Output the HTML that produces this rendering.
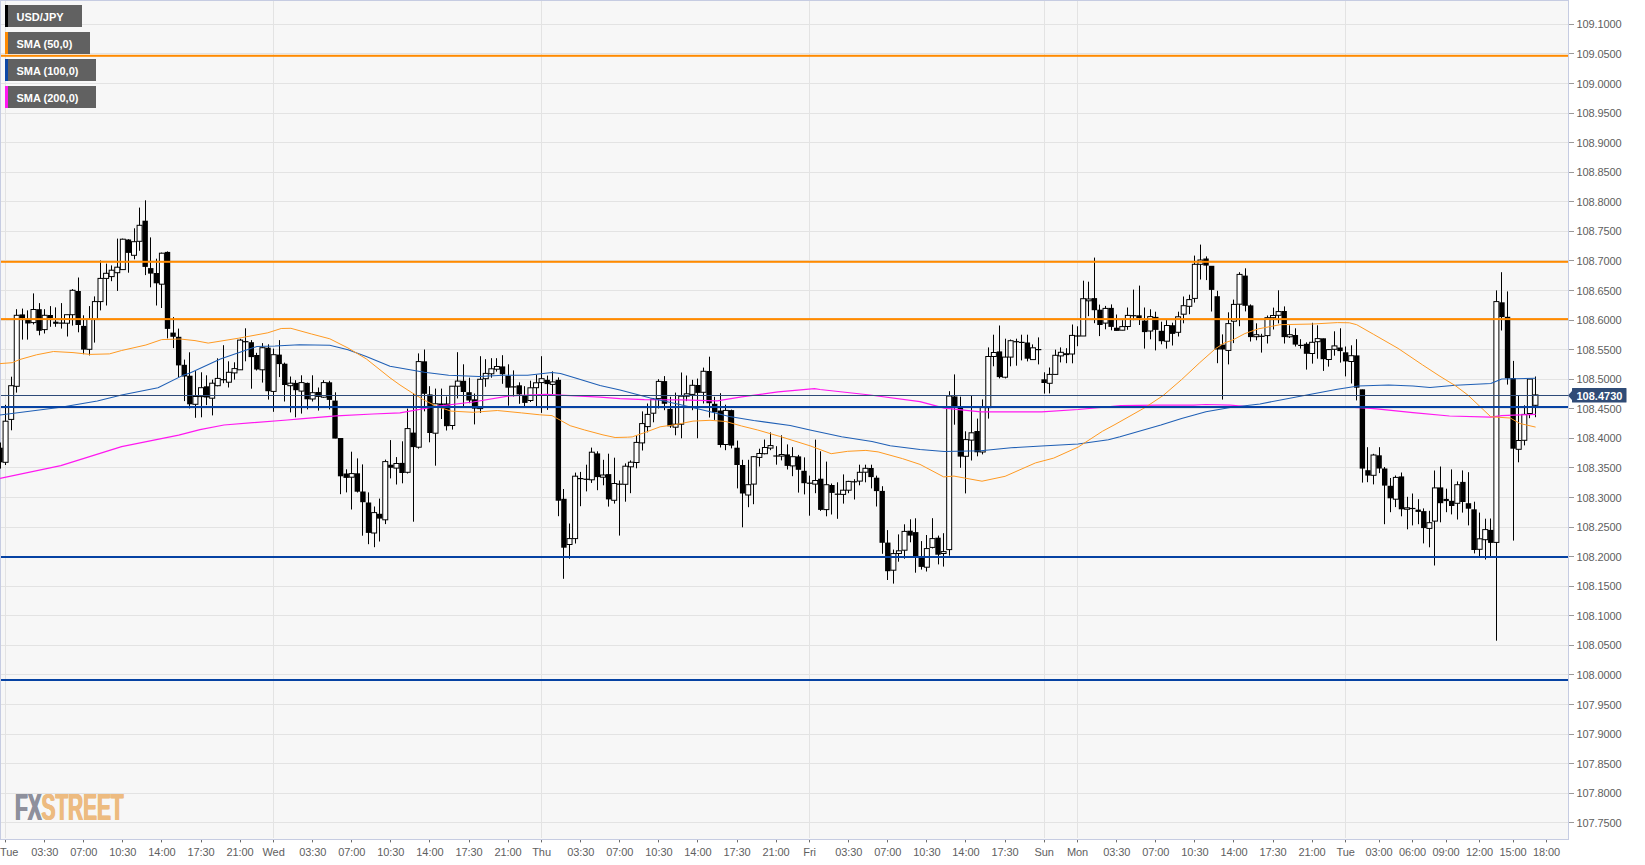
<!DOCTYPE html><html><head><meta charset="utf-8"><title>USD/JPY</title>
<style>html,body{margin:0;padding:0;background:#fff;width:1645px;height:865px;overflow:hidden;position:relative}svg{display:block;position:absolute;left:0;top:0}.logo{position:absolute;left:14.6px;top:786.9px;font:bold 37px/42px "Liberation Sans",Arial,sans-serif;transform-origin:0 0;transform:scaleX(0.566);white-space:nowrap;letter-spacing:-0.2px}.fx{color:#8e909c;text-shadow:0.8px 0 0 #8e909c,-0.8px 0 0 #8e909c}.st{color:#edbb80;text-shadow:0.8px 0 0 #edbb80,-0.8px 0 0 #edbb80}text{font-family:"Liberation Sans",Arial,sans-serif}</style></head><body>
<svg width="1645" height="865" viewBox="0 0 1645 865">
<rect x="0" y="0" width="1645" height="865" fill="#ffffff"/>
<rect x="0.5" y="0.5" width="1568" height="839" fill="#f7f7f7" stroke="#c6cce2" stroke-width="1"/>
<path d="M1 24.5H1568 M1 53.5H1568 M1 83.5H1568 M1 113.5H1568 M1 142.5H1568 M1 172.5H1568 M1 201.5H1568 M1 231.5H1568 M1 260.5H1568 M1 290.5H1568 M1 320.5H1568 M1 349.5H1568 M1 379.5H1568 M1 408.5H1568 M1 438.5H1568 M1 467.5H1568 M1 497.5H1568 M1 527.5H1568 M1 556.5H1568 M1 586.5H1568 M1 615.5H1568 M1 645.5H1568 M1 674.5H1568 M1 704.5H1568 M1 734.5H1568 M1 763.5H1568 M1 793.5H1568 M1 822.5H1568" stroke="#e3e3e3" stroke-width="1" fill="none"/>
<path d="M5.5 1V838 M273.5 1V838 M541.5 1V838 M809.5 1V838 M1044.5 1V838 M1077.5 1V838 M1345.5 1V838" stroke="#e3e3e3" stroke-width="1" fill="none"/>
<path d="M1569 24.5H1574 M1569 53.5H1574 M1569 83.5H1574 M1569 113.5H1574 M1569 142.5H1574 M1569 172.5H1574 M1569 201.5H1574 M1569 231.5H1574 M1569 260.5H1574 M1569 290.5H1574 M1569 320.5H1574 M1569 349.5H1574 M1569 379.5H1574 M1569 408.5H1574 M1569 438.5H1574 M1569 467.5H1574 M1569 497.5H1574 M1569 527.5H1574 M1569 556.5H1574 M1569 586.5H1574 M1569 615.5H1574 M1569 645.5H1574 M1569 674.5H1574 M1569 704.5H1574 M1569 734.5H1574 M1569 763.5H1574 M1569 793.5H1574 M1569 822.5H1574" stroke="#999999" stroke-width="1" fill="none"/>
<g font-size="11" fill="#606060" letter-spacing="-0.1">
<text x="1576.4" y="28">109.1000</text>
<text x="1576.4" y="58">109.0500</text>
<text x="1576.4" y="88">109.0000</text>
<text x="1576.4" y="117">108.9500</text>
<text x="1576.4" y="147">108.9000</text>
<text x="1576.4" y="176">108.8500</text>
<text x="1576.4" y="206">108.8000</text>
<text x="1576.4" y="235">108.7500</text>
<text x="1576.4" y="265">108.7000</text>
<text x="1576.4" y="295">108.6500</text>
<text x="1576.4" y="324">108.6000</text>
<text x="1576.4" y="354">108.5500</text>
<text x="1576.4" y="383">108.5000</text>
<text x="1576.4" y="413">108.4500</text>
<text x="1576.4" y="442">108.4000</text>
<text x="1576.4" y="472">108.3500</text>
<text x="1576.4" y="502">108.3000</text>
<text x="1576.4" y="531">108.2500</text>
<text x="1576.4" y="561">108.2000</text>
<text x="1576.4" y="590">108.1500</text>
<text x="1576.4" y="620">108.1000</text>
<text x="1576.4" y="649">108.0500</text>
<text x="1576.4" y="679">108.0000</text>
<text x="1576.4" y="709">107.9500</text>
<text x="1576.4" y="738">107.9000</text>
<text x="1576.4" y="768">107.8500</text>
<text x="1576.4" y="797">107.8000</text>
<text x="1576.4" y="827">107.7500</text>
</g>
<path d="M5.5 840V842.4 M44.5 840V842.4 M83.5 840V842.4 M122.5 840V842.4 M161.5 840V842.4 M201.5 840V842.4 M240.5 840V842.4 M273.5 840V842.4 M312.5 840V842.4 M351.5 840V842.4 M390.5 840V842.4 M429.5 840V842.4 M469.5 840V842.4 M508.5 840V842.4 M541.5 840V842.4 M580.5 840V842.4 M619.5 840V842.4 M658.5 840V842.4 M697.5 840V842.4 M737.5 840V842.4 M776.5 840V842.4 M809.5 840V842.4 M848.5 840V842.4 M887.5 840V842.4 M926.5 840V842.4 M965.5 840V842.4 M1005.5 840V842.4 M1044.5 840V842.4 M1077.5 840V842.4 M1116.5 840V842.4 M1155.5 840V842.4 M1194.5 840V842.4 M1233.5 840V842.4 M1273.5 840V842.4 M1312.5 840V842.4 M1345.5 840V842.4 M1379.5 840V842.4 M1412.5 840V842.4 M1446.5 840V842.4 M1479.5 840V842.4 M1513.5 840V842.4 M1546.5 840V842.4" stroke="#6a6a6a" stroke-width="1" fill="none"/>
<g font-size="11" fill="#606060" text-anchor="middle" letter-spacing="-0.08">
<text x="0" y="856" text-anchor="start">Tue</text>
<text x="44.7" y="856">03:30</text>
<text x="83.8" y="856">07:00</text>
<text x="122.8" y="856">10:30</text>
<text x="161.9" y="856">14:00</text>
<text x="201.0" y="856">17:30</text>
<text x="240.1" y="856">21:00</text>
<text x="273.6" y="856">Wed</text>
<text x="312.7" y="856">03:30</text>
<text x="351.8" y="856">07:00</text>
<text x="390.8" y="856">10:30</text>
<text x="429.9" y="856">14:00</text>
<text x="469.0" y="856">17:30</text>
<text x="508.1" y="856">21:00</text>
<text x="541.6" y="856">Thu</text>
<text x="580.7" y="856">03:30</text>
<text x="619.8" y="856">07:00</text>
<text x="658.9" y="856">10:30</text>
<text x="697.9" y="856">14:00</text>
<text x="737.0" y="856">17:30</text>
<text x="776.1" y="856">21:00</text>
<text x="809.6" y="856">Fri</text>
<text x="848.7" y="856">03:30</text>
<text x="887.8" y="856">07:00</text>
<text x="926.9" y="856">10:30</text>
<text x="965.9" y="856">14:00</text>
<text x="1005.0" y="856">17:30</text>
<text x="1044.1" y="856">Sun</text>
<text x="1077.6" y="856">Mon</text>
<text x="1116.7" y="856">03:30</text>
<text x="1155.8" y="856">07:00</text>
<text x="1194.9" y="856">10:30</text>
<text x="1234.0" y="856">14:00</text>
<text x="1273.0" y="856">17:30</text>
<text x="1312.1" y="856">21:00</text>
<text x="1345.6" y="856">Tue</text>
<text x="1379.1" y="856">03:00</text>
<text x="1412.6" y="856">06:00</text>
<text x="1446.1" y="856">09:00</text>
<text x="1479.6" y="856">12:00</text>
<text x="1513.1" y="856">15:00</text>
<text x="1546.6" y="856">18:00</text>
</g>
<path d="M0.5 442.5V468.6" stroke="#000" stroke-width="1"/>
<rect x="-2.70" y="447.7" width="5.4" height="14.6" fill="#000"/>
<path d="M5.5 404.8V465.0" stroke="#000" stroke-width="1"/>
<rect x="3.08" y="421.2" width="5" height="41.1" fill="#fff" stroke="#000" stroke-width="1"/>
<path d="M11.5 376.7V430.3" stroke="#000" stroke-width="1"/>
<rect x="8.67" y="385.7" width="5" height="33.7" fill="#fff" stroke="#000" stroke-width="1"/>
<path d="M16.5 309.2V392.6" stroke="#000" stroke-width="1"/>
<rect x="14.25" y="315.3" width="5" height="71.0" fill="#fff" stroke="#000" stroke-width="1"/>
<path d="M22.5 308.6V339.6" stroke="#000" stroke-width="1"/>
<rect x="19.63" y="314.4" width="5.4" height="3.6" fill="#000"/>
<path d="M27.5 310.4V339.6" stroke="#000" stroke-width="1"/>
<rect x="25.22" y="319.8" width="5.4" height="3.7" fill="#000"/>
<path d="M33.5 293.4V324.4" stroke="#000" stroke-width="1"/>
<rect x="31.00" y="309.5" width="5" height="13.1" fill="#fff" stroke="#000" stroke-width="1"/>
<path d="M39.5 303.1V335.3" stroke="#000" stroke-width="1"/>
<rect x="36.38" y="309.2" width="5.4" height="21.6" fill="#000"/>
<path d="M44.5 309.2V333.5" stroke="#000" stroke-width="1"/>
<rect x="42.17" y="315.3" width="5" height="14.3" fill="#fff" stroke="#000" stroke-width="1"/>
<path d="M50.5 306.1V326.8" stroke="#000" stroke-width="1"/>
<rect x="47.55" y="315.0" width="5.4" height="3.0" fill="#000"/>
<path d="M55.5 307.4V326.8" stroke="#000" stroke-width="1"/>
<rect x="53.13" y="321.7" width="5.4" height="2.1" fill="#000"/>
<path d="M61.5 303.1V328.6" stroke="#000" stroke-width="1"/>
<rect x="58.62" y="322.5" width="5.6" height="1.2" fill="#000"/>
<path d="M67.5 314.7V336.5" stroke="#000" stroke-width="1"/>
<rect x="64.50" y="314.7" width="5" height="8.5" fill="#fff" stroke="#000" stroke-width="1"/>
<path d="M72.5 289.1V325.6" stroke="#000" stroke-width="1"/>
<rect x="70.09" y="290.3" width="5" height="24.4" fill="#fff" stroke="#000" stroke-width="1"/>
<path d="M78.5 277.5V332.3" stroke="#000" stroke-width="1"/>
<rect x="75.47" y="291.0" width="5.4" height="34.0" fill="#000"/>
<path d="M83.5 315.3V354.2" stroke="#000" stroke-width="1"/>
<rect x="81.05" y="325.9" width="5.4" height="23.7" fill="#000"/>
<path d="M89.5 306.1V355.4" stroke="#000" stroke-width="1"/>
<rect x="86.84" y="319.5" width="5" height="29.8" fill="#fff" stroke="#000" stroke-width="1"/>
<path d="M94.5 296.4V342.6" stroke="#000" stroke-width="1"/>
<rect x="92.42" y="301.6" width="5" height="17.9" fill="#fff" stroke="#000" stroke-width="1"/>
<path d="M100.5 260.5V310.4" stroke="#000" stroke-width="1"/>
<rect x="98.00" y="278.4" width="5" height="23.2" fill="#fff" stroke="#000" stroke-width="1"/>
<path d="M106.5 263.6V305.5" stroke="#000" stroke-width="1"/>
<rect x="103.59" y="273.3" width="5" height="5.1" fill="#fff" stroke="#000" stroke-width="1"/>
<path d="M111.5 265.4V281.2" stroke="#000" stroke-width="1"/>
<rect x="109.17" y="270.2" width="5" height="6.4" fill="#fff" stroke="#000" stroke-width="1"/>
<path d="M117.5 238.6V290.9" stroke="#000" stroke-width="1"/>
<rect x="114.75" y="267.2" width="5" height="5.5" fill="#fff" stroke="#000" stroke-width="1"/>
<path d="M122.5 238.6V269.6" stroke="#000" stroke-width="1"/>
<rect x="120.34" y="239.2" width="5" height="30.4" fill="#fff" stroke="#000" stroke-width="1"/>
<path d="M128.5 239.2V272.7" stroke="#000" stroke-width="1"/>
<rect x="125.72" y="239.5" width="5.4" height="13.4" fill="#000"/>
<path d="M134.5 228.3V259.3" stroke="#000" stroke-width="1"/>
<rect x="131.50" y="241.7" width="5" height="13.6" fill="#fff" stroke="#000" stroke-width="1"/>
<path d="M139.5 207.6V250.8" stroke="#000" stroke-width="1"/>
<rect x="137.09" y="225.3" width="5" height="16.0" fill="#fff" stroke="#000" stroke-width="1"/>
<path d="M145.5 200.3V275.1" stroke="#000" stroke-width="1"/>
<rect x="142.47" y="220.7" width="5.4" height="46.2" fill="#000"/>
<path d="M150.5 237.4V287.3" stroke="#000" stroke-width="1"/>
<rect x="148.05" y="268.1" width="5.4" height="5.5" fill="#000"/>
<path d="M156.5 258.7V305.5" stroke="#000" stroke-width="1"/>
<rect x="153.64" y="273.0" width="5.4" height="10.3" fill="#000"/>
<path d="M161.5 252.6V308.0" stroke="#000" stroke-width="1"/>
<rect x="159.42" y="253.2" width="5" height="31.0" fill="#fff" stroke="#000" stroke-width="1"/>
<path d="M167.5 251.4V338.4" stroke="#000" stroke-width="1"/>
<rect x="164.81" y="251.9" width="5.4" height="77.0" fill="#000"/>
<path d="M173.5 317.1V348.1" stroke="#000" stroke-width="1"/>
<rect x="170.39" y="332.6" width="5.4" height="4.2" fill="#000"/>
<path d="M178.5 328.6V377.3" stroke="#000" stroke-width="1"/>
<rect x="175.97" y="336.8" width="5.4" height="28.6" fill="#000"/>
<path d="M184.5 359.6V401.1" stroke="#000" stroke-width="1"/>
<rect x="181.56" y="364.8" width="5.4" height="11.7" fill="#000"/>
<path d="M189.5 352.3V408.4" stroke="#000" stroke-width="1"/>
<rect x="187.14" y="375.7" width="5.4" height="28.6" fill="#000"/>
<path d="M195.5 371.1V417.8" stroke="#000" stroke-width="1"/>
<rect x="192.92" y="396.5" width="5" height="7.8" fill="#fff" stroke="#000" stroke-width="1"/>
<path d="M201.5 372.3V417.3" stroke="#000" stroke-width="1"/>
<rect x="198.51" y="387.7" width="5" height="8.9" fill="#fff" stroke="#000" stroke-width="1"/>
<path d="M206.5 375.3V405.1" stroke="#000" stroke-width="1"/>
<rect x="203.89" y="386.3" width="5.4" height="11.2" fill="#000"/>
<path d="M212.5 379.6V415.4" stroke="#000" stroke-width="1"/>
<rect x="209.67" y="383.2" width="5" height="15.0" fill="#fff" stroke="#000" stroke-width="1"/>
<path d="M217.5 358.3V386.3" stroke="#000" stroke-width="1"/>
<rect x="215.26" y="378.4" width="5" height="7.3" fill="#fff" stroke="#000" stroke-width="1"/>
<path d="M223.5 345.2V383.2" stroke="#000" stroke-width="1"/>
<rect x="220.54" y="379.1" width="5.6" height="1.2" fill="#000"/>
<path d="M228.5 361.3V387.5" stroke="#000" stroke-width="1"/>
<rect x="226.42" y="372.3" width="5" height="9.9" fill="#fff" stroke="#000" stroke-width="1"/>
<path d="M234.5 362.3V379.6" stroke="#000" stroke-width="1"/>
<rect x="232.01" y="368.6" width="5" height="4.3" fill="#fff" stroke="#000" stroke-width="1"/>
<path d="M240.5 338.8V369.8" stroke="#000" stroke-width="1"/>
<rect x="237.59" y="340.1" width="5" height="29.7" fill="#fff" stroke="#000" stroke-width="1"/>
<path d="M245.5 328.3V361.3" stroke="#000" stroke-width="1"/>
<rect x="242.87" y="341.1" width="5.6" height="1.2" fill="#000"/>
<path d="M251.5 340.1V388.7" stroke="#000" stroke-width="1"/>
<rect x="248.56" y="342.2" width="5.4" height="14.9" fill="#000"/>
<path d="M256.5 352.8V370.5" stroke="#000" stroke-width="1"/>
<rect x="254.14" y="355.0" width="5.4" height="14.5" fill="#000"/>
<path d="M262.5 343.1V382.6" stroke="#000" stroke-width="1"/>
<rect x="259.92" y="347.7" width="5" height="22.1" fill="#fff" stroke="#000" stroke-width="1"/>
<path d="M268.5 344.3V399.6" stroke="#000" stroke-width="1"/>
<rect x="265.31" y="347.7" width="5.4" height="43.5" fill="#000"/>
<path d="M273.5 348.6V411.8" stroke="#000" stroke-width="1"/>
<rect x="271.09" y="354.7" width="5" height="36.7" fill="#fff" stroke="#000" stroke-width="1"/>
<path d="M279.5 340.1V377.1" stroke="#000" stroke-width="1"/>
<rect x="276.48" y="354.6" width="5.4" height="9.5" fill="#000"/>
<path d="M284.5 362.6V401.5" stroke="#000" stroke-width="1"/>
<rect x="282.06" y="363.7" width="5.4" height="21.3" fill="#000"/>
<path d="M290.5 376.5V412.4" stroke="#000" stroke-width="1"/>
<rect x="287.84" y="383.2" width="5" height="2.5" fill="#fff" stroke="#000" stroke-width="1"/>
<path d="M295.5 380.2V417.3" stroke="#000" stroke-width="1"/>
<rect x="293.23" y="382.9" width="5.4" height="7.3" fill="#000"/>
<path d="M301.5 375.3V413.6" stroke="#000" stroke-width="1"/>
<rect x="299.01" y="382.6" width="5" height="8.5" fill="#fff" stroke="#000" stroke-width="1"/>
<path d="M307.5 382.6V409.4" stroke="#000" stroke-width="1"/>
<rect x="304.39" y="382.9" width="5.4" height="16.4" fill="#000"/>
<path d="M312.5 375.3V401.5" stroke="#000" stroke-width="1"/>
<rect x="310.18" y="392.7" width="5" height="6.3" fill="#fff" stroke="#000" stroke-width="1"/>
<path d="M318.5 387.5V410.6" stroke="#000" stroke-width="1"/>
<rect x="315.56" y="392.0" width="5.4" height="4.9" fill="#000"/>
<path d="M323.5 380.2V397.8" stroke="#000" stroke-width="1"/>
<rect x="321.34" y="382.6" width="5" height="14.6" fill="#fff" stroke="#000" stroke-width="1"/>
<path d="M329.5 380.8V409.4" stroke="#000" stroke-width="1"/>
<rect x="326.73" y="382.3" width="5.4" height="17.6" fill="#000"/>
<path d="M335.5 392.3V438.3" stroke="#000" stroke-width="1"/>
<rect x="332.31" y="400.6" width="5.4" height="38.0" fill="#000"/>
<path d="M340.5 438.3V494.2" stroke="#000" stroke-width="1"/>
<rect x="337.89" y="438.0" width="5.4" height="38.3" fill="#000"/>
<path d="M346.5 469.3V492.4" stroke="#000" stroke-width="1"/>
<rect x="343.48" y="473.5" width="5.4" height="4.4" fill="#000"/>
<path d="M351.5 451.7V509.5" stroke="#000" stroke-width="1"/>
<rect x="349.26" y="473.6" width="5" height="3.6" fill="#fff" stroke="#000" stroke-width="1"/>
<path d="M357.5 458.4V492.5" stroke="#000" stroke-width="1"/>
<rect x="354.64" y="473.3" width="5.4" height="18.4" fill="#000"/>
<path d="M362.5 464.4V535.7" stroke="#000" stroke-width="1"/>
<rect x="360.23" y="491.5" width="5.4" height="10.7" fill="#000"/>
<path d="M368.5 492.4V544.2" stroke="#000" stroke-width="1"/>
<rect x="365.81" y="502.5" width="5.4" height="30.4" fill="#000"/>
<path d="M374.5 506.5V547.2" stroke="#000" stroke-width="1"/>
<rect x="371.59" y="512.6" width="5" height="20.4" fill="#fff" stroke="#000" stroke-width="1"/>
<path d="M379.5 498.6V541.5" stroke="#000" stroke-width="1"/>
<rect x="376.98" y="513.8" width="5.4" height="4.8" fill="#000"/>
<path d="M385.5 459.6V524.1" stroke="#000" stroke-width="1"/>
<rect x="382.76" y="461.6" width="5" height="58.2" fill="#fff" stroke="#000" stroke-width="1"/>
<path d="M390.5 440.1V478.4" stroke="#000" stroke-width="1"/>
<rect x="388.14" y="464.7" width="5.4" height="3.1" fill="#000"/>
<path d="M396.5 457.1V484.5" stroke="#000" stroke-width="1"/>
<rect x="393.93" y="463.5" width="5" height="4.6" fill="#fff" stroke="#000" stroke-width="1"/>
<path d="M402.5 441.3V483.3" stroke="#000" stroke-width="1"/>
<rect x="399.31" y="462.9" width="5.4" height="10.1" fill="#000"/>
<path d="M407.5 408.6V473.5" stroke="#000" stroke-width="1"/>
<rect x="405.10" y="428.6" width="5" height="43.7" fill="#fff" stroke="#000" stroke-width="1"/>
<path d="M413.5 393.5V521.7" stroke="#000" stroke-width="1"/>
<rect x="410.48" y="432.6" width="5.4" height="14.5" fill="#000"/>
<path d="M418.5 353.4V448.6" stroke="#000" stroke-width="1"/>
<rect x="416.26" y="361.6" width="5" height="85.6" fill="#fff" stroke="#000" stroke-width="1"/>
<path d="M424.5 349.5V411.3" stroke="#000" stroke-width="1"/>
<rect x="421.65" y="361.3" width="5.4" height="32.5" fill="#000"/>
<path d="M429.5 386.2V442.3" stroke="#000" stroke-width="1"/>
<rect x="427.23" y="394.4" width="5.4" height="38.6" fill="#000"/>
<path d="M435.5 388.6V465.7" stroke="#000" stroke-width="1"/>
<rect x="433.01" y="403.8" width="5" height="29.4" fill="#fff" stroke="#000" stroke-width="1"/>
<path d="M441.5 388.6V419.0" stroke="#000" stroke-width="1"/>
<rect x="438.40" y="403.5" width="5.4" height="2.4" fill="#000"/>
<path d="M446.5 396.5V430.5" stroke="#000" stroke-width="1"/>
<rect x="443.98" y="403.5" width="5.4" height="22.7" fill="#000"/>
<path d="M452.5 386.2V429.6" stroke="#000" stroke-width="1"/>
<rect x="449.76" y="386.2" width="5" height="39.3" fill="#fff" stroke="#000" stroke-width="1"/>
<path d="M457.5 352.2V398.4" stroke="#000" stroke-width="1"/>
<rect x="455.35" y="381.1" width="5" height="5.1" fill="#fff" stroke="#000" stroke-width="1"/>
<path d="M463.5 364.3V406.2" stroke="#000" stroke-width="1"/>
<rect x="460.73" y="380.8" width="5.4" height="11.2" fill="#000"/>
<path d="M469.5 377.7V403.2" stroke="#000" stroke-width="1"/>
<rect x="466.31" y="392.2" width="5.4" height="8.3" fill="#000"/>
<path d="M474.5 393.5V424.4" stroke="#000" stroke-width="1"/>
<rect x="471.90" y="399.3" width="5.4" height="9.3" fill="#000"/>
<path d="M480.5 356.2V412.9" stroke="#000" stroke-width="1"/>
<rect x="477.68" y="379.3" width="5" height="29.3" fill="#fff" stroke="#000" stroke-width="1"/>
<path d="M485.5 359.2V386.8" stroke="#000" stroke-width="1"/>
<rect x="483.26" y="373.4" width="5" height="5.3" fill="#fff" stroke="#000" stroke-width="1"/>
<path d="M491.5 358.2V377.7" stroke="#000" stroke-width="1"/>
<rect x="488.85" y="368.8" width="5" height="5.0" fill="#fff" stroke="#000" stroke-width="1"/>
<path d="M496.5 358.2V371.6" stroke="#000" stroke-width="1"/>
<rect x="494.43" y="366.5" width="5" height="2.7" fill="#fff" stroke="#000" stroke-width="1"/>
<path d="M502.5 355.2V383.8" stroke="#000" stroke-width="1"/>
<rect x="499.81" y="366.4" width="5.4" height="7.9" fill="#000"/>
<path d="M508.5 364.3V405.7" stroke="#000" stroke-width="1"/>
<rect x="505.40" y="375.9" width="5.4" height="11.8" fill="#000"/>
<path d="M513.5 370.4V396.5" stroke="#000" stroke-width="1"/>
<rect x="510.88" y="386.3" width="5.6" height="1.2" fill="#000"/>
<path d="M519.5 382.3V403.8" stroke="#000" stroke-width="1"/>
<rect x="516.57" y="385.3" width="5.4" height="9.1" fill="#000"/>
<path d="M524.5 386.2V406.3" stroke="#000" stroke-width="1"/>
<rect x="522.15" y="395.0" width="5.4" height="7.9" fill="#000"/>
<path d="M530.5 380.7V402.0" stroke="#000" stroke-width="1"/>
<rect x="527.93" y="387.8" width="5" height="12.7" fill="#fff" stroke="#000" stroke-width="1"/>
<path d="M536.5 374.7V406.3" stroke="#000" stroke-width="1"/>
<rect x="533.52" y="382.8" width="5" height="4.9" fill="#fff" stroke="#000" stroke-width="1"/>
<path d="M541.5 356.2V412.9" stroke="#000" stroke-width="1"/>
<rect x="539.10" y="378.7" width="5" height="3.9" fill="#fff" stroke="#000" stroke-width="1"/>
<path d="M547.5 375.6V409.9" stroke="#000" stroke-width="1"/>
<rect x="544.48" y="379.8" width="5.4" height="4.3" fill="#000"/>
<path d="M552.5 371.4V394.1" stroke="#000" stroke-width="1"/>
<rect x="550.27" y="381.9" width="5" height="2.5" fill="#fff" stroke="#000" stroke-width="1"/>
<path d="M558.5 377.4V516.2" stroke="#000" stroke-width="1"/>
<rect x="555.65" y="379.8" width="5.4" height="120.9" fill="#000"/>
<path d="M563.5 489.0V578.8" stroke="#000" stroke-width="1"/>
<rect x="561.23" y="498.8" width="5.4" height="48.9" fill="#000"/>
<path d="M569.5 523.5V558.7" stroke="#000" stroke-width="1"/>
<rect x="567.02" y="538.6" width="5" height="5.9" fill="#fff" stroke="#000" stroke-width="1"/>
<path d="M575.5 472.6V543.5" stroke="#000" stroke-width="1"/>
<rect x="572.60" y="476.2" width="5" height="62.4" fill="#fff" stroke="#000" stroke-width="1"/>
<path d="M580.5 471.9V506.2" stroke="#000" stroke-width="1"/>
<rect x="577.88" y="478.0" width="5.6" height="1.2" fill="#000"/>
<path d="M586.5 464.7V491.4" stroke="#000" stroke-width="1"/>
<rect x="583.47" y="478.7" width="5.6" height="1.2" fill="#000"/>
<path d="M591.5 447.6V482.9" stroke="#000" stroke-width="1"/>
<rect x="589.35" y="452.2" width="5" height="27.6" fill="#fff" stroke="#000" stroke-width="1"/>
<path d="M597.5 451.3V490.2" stroke="#000" stroke-width="1"/>
<rect x="594.73" y="453.4" width="5.4" height="23.7" fill="#000"/>
<path d="M603.5 459.8V485.3" stroke="#000" stroke-width="1"/>
<rect x="600.52" y="475.0" width="5" height="2.2" fill="#fff" stroke="#000" stroke-width="1"/>
<path d="M608.5 453.7V506.6" stroke="#000" stroke-width="1"/>
<rect x="605.90" y="474.1" width="5.4" height="25.3" fill="#000"/>
<path d="M614.5 457.7V503.6" stroke="#000" stroke-width="1"/>
<rect x="611.68" y="483.5" width="5" height="16.8" fill="#fff" stroke="#000" stroke-width="1"/>
<path d="M619.5 480.5V535.6" stroke="#000" stroke-width="1"/>
<rect x="616.97" y="483.6" width="5.6" height="1.2" fill="#000"/>
<path d="M625.5 463.4V501.7" stroke="#000" stroke-width="1"/>
<rect x="622.85" y="466.2" width="5" height="18.1" fill="#fff" stroke="#000" stroke-width="1"/>
<path d="M630.5 460.4V493.2" stroke="#000" stroke-width="1"/>
<rect x="628.44" y="462.2" width="5" height="4.6" fill="#fff" stroke="#000" stroke-width="1"/>
<path d="M636.5 435.3V468.3" stroke="#000" stroke-width="1"/>
<rect x="634.02" y="442.4" width="5" height="20.1" fill="#fff" stroke="#000" stroke-width="1"/>
<path d="M642.5 411.4V450.5" stroke="#000" stroke-width="1"/>
<rect x="639.60" y="423.6" width="5" height="19.3" fill="#fff" stroke="#000" stroke-width="1"/>
<path d="M647.5 403.5V432.3" stroke="#000" stroke-width="1"/>
<rect x="645.19" y="414.4" width="5" height="12.2" fill="#fff" stroke="#000" stroke-width="1"/>
<path d="M653.5 398.0V422.3" stroke="#000" stroke-width="1"/>
<rect x="650.77" y="399.2" width="5" height="14.0" fill="#fff" stroke="#000" stroke-width="1"/>
<path d="M658.5 379.2V408.4" stroke="#000" stroke-width="1"/>
<rect x="656.35" y="381.4" width="5" height="17.2" fill="#fff" stroke="#000" stroke-width="1"/>
<path d="M664.5 376.1V410.2" stroke="#000" stroke-width="1"/>
<rect x="661.74" y="381.1" width="5.4" height="22.7" fill="#000"/>
<path d="M670.5 396.8V427.8" stroke="#000" stroke-width="1"/>
<rect x="667.32" y="408.9" width="5.4" height="17.4" fill="#000"/>
<path d="M675.5 392.6V435.3" stroke="#000" stroke-width="1"/>
<rect x="673.10" y="424.2" width="5" height="3.0" fill="#fff" stroke="#000" stroke-width="1"/>
<path d="M681.5 372.5V438.3" stroke="#000" stroke-width="1"/>
<rect x="678.69" y="396.2" width="5" height="28.0" fill="#fff" stroke="#000" stroke-width="1"/>
<path d="M686.5 375.5V401.1" stroke="#000" stroke-width="1"/>
<rect x="684.27" y="393.8" width="5" height="2.4" fill="#fff" stroke="#000" stroke-width="1"/>
<path d="M692.5 379.8V410.2" stroke="#000" stroke-width="1"/>
<rect x="689.85" y="385.3" width="5" height="9.1" fill="#fff" stroke="#000" stroke-width="1"/>
<path d="M697.5 378.6V438.3" stroke="#000" stroke-width="1"/>
<rect x="695.24" y="385.0" width="5.4" height="7.9" fill="#000"/>
<path d="M703.5 367.6V403.5" stroke="#000" stroke-width="1"/>
<rect x="701.02" y="371.3" width="5" height="21.0" fill="#fff" stroke="#000" stroke-width="1"/>
<path d="M709.5 356.7V417.5" stroke="#000" stroke-width="1"/>
<rect x="706.40" y="371.0" width="5.4" height="32.2" fill="#000"/>
<path d="M714.5 396.8V419.9" stroke="#000" stroke-width="1"/>
<rect x="711.99" y="403.8" width="5.4" height="8.5" fill="#000"/>
<path d="M720.5 393.2V447.5" stroke="#000" stroke-width="1"/>
<rect x="717.57" y="410.5" width="5.4" height="34.5" fill="#000"/>
<path d="M725.5 404.7V450.2" stroke="#000" stroke-width="1"/>
<rect x="723.36" y="410.4" width="5" height="34.1" fill="#fff" stroke="#000" stroke-width="1"/>
<path d="M731.5 409.6V448.4" stroke="#000" stroke-width="1"/>
<rect x="728.74" y="410.1" width="5.4" height="35.5" fill="#000"/>
<path d="M737.5 440.6V488.4" stroke="#000" stroke-width="1"/>
<rect x="734.32" y="447.7" width="5.4" height="17.3" fill="#000"/>
<path d="M742.5 459.8V527.3" stroke="#000" stroke-width="1"/>
<rect x="739.91" y="465.0" width="5.4" height="28.5" fill="#000"/>
<path d="M748.5 459.8V507.2" stroke="#000" stroke-width="1"/>
<rect x="745.69" y="484.7" width="5" height="10.3" fill="#fff" stroke="#000" stroke-width="1"/>
<path d="M753.5 456.1V504.2" stroke="#000" stroke-width="1"/>
<rect x="751.27" y="456.7" width="5" height="27.4" fill="#fff" stroke="#000" stroke-width="1"/>
<path d="M759.5 448.7V466.5" stroke="#000" stroke-width="1"/>
<rect x="756.86" y="453.5" width="5" height="3.9" fill="#fff" stroke="#000" stroke-width="1"/>
<path d="M764.5 439.5V454.3" stroke="#000" stroke-width="1"/>
<rect x="762.44" y="447.5" width="5" height="6.2" fill="#fff" stroke="#000" stroke-width="1"/>
<path d="M770.5 432.4V450.2" stroke="#000" stroke-width="1"/>
<rect x="768.02" y="445.6" width="5" height="2.5" fill="#fff" stroke="#000" stroke-width="1"/>
<path d="M776.5 446.2V464.7" stroke="#000" stroke-width="1"/>
<rect x="773.31" y="455.4" width="5.6" height="1.2" fill="#000"/>
<path d="M781.5 435.3V460.4" stroke="#000" stroke-width="1"/>
<rect x="779.19" y="454.5" width="5" height="1.6" fill="#fff" stroke="#000" stroke-width="1"/>
<path d="M787.5 444.4V469.5" stroke="#000" stroke-width="1"/>
<rect x="784.57" y="454.4" width="5.4" height="11.5" fill="#000"/>
<path d="M792.5 447.2V476.2" stroke="#000" stroke-width="1"/>
<rect x="790.36" y="456.7" width="5" height="9.2" fill="#fff" stroke="#000" stroke-width="1"/>
<path d="M798.5 454.9V492.6" stroke="#000" stroke-width="1"/>
<rect x="795.74" y="456.4" width="5.4" height="13.4" fill="#000"/>
<path d="M804.5 457.4V494.4" stroke="#000" stroke-width="1"/>
<rect x="801.32" y="470.8" width="5.4" height="12.4" fill="#000"/>
<path d="M809.5 475.6V515.7" stroke="#000" stroke-width="1"/>
<rect x="806.81" y="482.6" width="5.6" height="1.2" fill="#000"/>
<path d="M815.5 439.6V493.2" stroke="#000" stroke-width="1"/>
<rect x="812.69" y="480.5" width="5" height="3.6" fill="#fff" stroke="#000" stroke-width="1"/>
<path d="M820.5 451.3V510.9" stroke="#000" stroke-width="1"/>
<rect x="818.07" y="478.7" width="5.4" height="31.2" fill="#000"/>
<path d="M826.5 461.6V516.3" stroke="#000" stroke-width="1"/>
<rect x="823.86" y="484.7" width="5" height="24.9" fill="#fff" stroke="#000" stroke-width="1"/>
<path d="M831.5 483.5V514.5" stroke="#000" stroke-width="1"/>
<rect x="829.24" y="485.0" width="5.4" height="7.9" fill="#000"/>
<path d="M837.5 482.3V518.8" stroke="#000" stroke-width="1"/>
<rect x="834.73" y="493.6" width="5.6" height="1.2" fill="#000"/>
<path d="M843.5 474.4V503.6" stroke="#000" stroke-width="1"/>
<rect x="840.61" y="490.2" width="5" height="4.2" fill="#fff" stroke="#000" stroke-width="1"/>
<path d="M848.5 480.8V493.2" stroke="#000" stroke-width="1"/>
<rect x="846.19" y="481.4" width="5" height="8.8" fill="#fff" stroke="#000" stroke-width="1"/>
<path d="M854.5 479.2V499.5" stroke="#000" stroke-width="1"/>
<rect x="851.48" y="481.2" width="5.6" height="1.2" fill="#000"/>
<path d="M859.5 464.7V485.3" stroke="#000" stroke-width="1"/>
<rect x="857.36" y="472.3" width="5" height="8.8" fill="#fff" stroke="#000" stroke-width="1"/>
<path d="M865.5 464.7V482.3" stroke="#000" stroke-width="1"/>
<rect x="862.94" y="468.3" width="5" height="3.9" fill="#fff" stroke="#000" stroke-width="1"/>
<path d="M871.5 464.7V488.4" stroke="#000" stroke-width="1"/>
<rect x="868.33" y="468.0" width="5.4" height="9.1" fill="#000"/>
<path d="M876.5 475.6V506.5" stroke="#000" stroke-width="1"/>
<rect x="873.91" y="477.7" width="5.4" height="13.4" fill="#000"/>
<path d="M882.5 486.2V553.8" stroke="#000" stroke-width="1"/>
<rect x="879.49" y="490.9" width="5.4" height="51.9" fill="#000"/>
<path d="M887.5 530.1V580.0" stroke="#000" stroke-width="1"/>
<rect x="885.08" y="542.6" width="5.4" height="28.6" fill="#000"/>
<path d="M893.5 549.6V583.6" stroke="#000" stroke-width="1"/>
<rect x="890.86" y="553.6" width="5" height="16.6" fill="#fff" stroke="#000" stroke-width="1"/>
<path d="M898.5 534.4V561.7" stroke="#000" stroke-width="1"/>
<rect x="896.44" y="550.8" width="5" height="2.7" fill="#fff" stroke="#000" stroke-width="1"/>
<path d="M904.5 524.3V558.7" stroke="#000" stroke-width="1"/>
<rect x="902.03" y="531.4" width="5" height="18.8" fill="#fff" stroke="#000" stroke-width="1"/>
<path d="M910.5 519.3V542.3" stroke="#000" stroke-width="1"/>
<rect x="907.41" y="530.7" width="5.4" height="4.9" fill="#000"/>
<path d="M915.5 518.3V572.7" stroke="#000" stroke-width="1"/>
<rect x="912.99" y="532.1" width="5.4" height="24.5" fill="#000"/>
<path d="M921.5 541.1V569.6" stroke="#000" stroke-width="1"/>
<rect x="918.58" y="556.0" width="5.4" height="10.9" fill="#000"/>
<path d="M926.5 535.0V571.5" stroke="#000" stroke-width="1"/>
<rect x="924.36" y="548.6" width="5" height="18.6" fill="#fff" stroke="#000" stroke-width="1"/>
<path d="M932.5 518.2V548.4" stroke="#000" stroke-width="1"/>
<rect x="929.94" y="538.6" width="5" height="8.8" fill="#fff" stroke="#000" stroke-width="1"/>
<path d="M938.5 535.6V564.4" stroke="#000" stroke-width="1"/>
<rect x="935.33" y="537.7" width="5.4" height="17.0" fill="#000"/>
<path d="M943.5 533.2V566.6" stroke="#000" stroke-width="1"/>
<rect x="941.11" y="551.6" width="5" height="1.9" fill="#fff" stroke="#000" stroke-width="1"/>
<path d="M949.5 391.2V555.7" stroke="#000" stroke-width="1"/>
<rect x="946.69" y="396.0" width="5" height="153.6" fill="#fff" stroke="#000" stroke-width="1"/>
<path d="M954.5 374.4V424.7" stroke="#000" stroke-width="1"/>
<rect x="952.08" y="396.4" width="5.4" height="9.7" fill="#000"/>
<path d="M960.5 396.7V467.8" stroke="#000" stroke-width="1"/>
<rect x="957.66" y="407.9" width="5.4" height="48.7" fill="#000"/>
<path d="M965.5 431.3V493.4" stroke="#000" stroke-width="1"/>
<rect x="963.45" y="439.6" width="5" height="16.7" fill="#fff" stroke="#000" stroke-width="1"/>
<path d="M971.5 395.8V460.5" stroke="#000" stroke-width="1"/>
<rect x="969.03" y="432.8" width="5" height="7.3" fill="#fff" stroke="#000" stroke-width="1"/>
<path d="M977.5 418.6V456.3" stroke="#000" stroke-width="1"/>
<rect x="974.41" y="431.0" width="5.4" height="21.3" fill="#000"/>
<path d="M982.5 399.4V454.4" stroke="#000" stroke-width="1"/>
<rect x="980.20" y="407.6" width="5" height="44.4" fill="#fff" stroke="#000" stroke-width="1"/>
<path d="M988.5 347.4V418.6" stroke="#000" stroke-width="1"/>
<rect x="985.78" y="356.5" width="5" height="51.1" fill="#fff" stroke="#000" stroke-width="1"/>
<path d="M993.5 334.7V366.3" stroke="#000" stroke-width="1"/>
<rect x="991.36" y="352.5" width="5" height="4.0" fill="#fff" stroke="#000" stroke-width="1"/>
<path d="M999.5 325.5V378.4" stroke="#000" stroke-width="1"/>
<rect x="996.75" y="351.4" width="5.4" height="25.7" fill="#000"/>
<path d="M1005.5 338.7V378.4" stroke="#000" stroke-width="1"/>
<rect x="1002.53" y="357.1" width="5" height="20.1" fill="#fff" stroke="#000" stroke-width="1"/>
<path d="M1010.5 339.5V366.3" stroke="#000" stroke-width="1"/>
<rect x="1008.11" y="340.7" width="5" height="16.4" fill="#fff" stroke="#000" stroke-width="1"/>
<path d="M1016.5 338.7V365.7" stroke="#000" stroke-width="1"/>
<rect x="1013.40" y="341.1" width="5.6" height="1.2" fill="#000"/>
<path d="M1021.5 334.7V360.4" stroke="#000" stroke-width="1"/>
<rect x="1018.98" y="341.8" width="5.6" height="1.2" fill="#000"/>
<path d="M1027.5 334.7V361.4" stroke="#000" stroke-width="1"/>
<rect x="1024.66" y="342.5" width="5.4" height="16.2" fill="#000"/>
<path d="M1032.5 344.4V359.6" stroke="#000" stroke-width="1"/>
<rect x="1030.45" y="347.8" width="5" height="11.8" fill="#fff" stroke="#000" stroke-width="1"/>
<path d="M1038.5 337.4V364.4" stroke="#000" stroke-width="1"/>
<rect x="1035.73" y="349.0" width="5.6" height="1.2" fill="#000"/>
<path d="M1044.5 372.3V393.6" stroke="#000" stroke-width="1"/>
<rect x="1041.41" y="379.3" width="5.4" height="3.7" fill="#000"/>
<path d="M1049.5 367.5V393.4" stroke="#000" stroke-width="1"/>
<rect x="1047.20" y="374.4" width="5" height="8.9" fill="#fff" stroke="#000" stroke-width="1"/>
<path d="M1055.5 349.6V374.4" stroke="#000" stroke-width="1"/>
<rect x="1052.78" y="355.3" width="5" height="19.1" fill="#fff" stroke="#000" stroke-width="1"/>
<path d="M1060.5 347.4V362.4" stroke="#000" stroke-width="1"/>
<rect x="1058.37" y="352.3" width="5" height="3.6" fill="#fff" stroke="#000" stroke-width="1"/>
<path d="M1066.5 348.2V363.2" stroke="#000" stroke-width="1"/>
<rect x="1063.75" y="353.2" width="5.4" height="1.9" fill="#000"/>
<path d="M1072.5 324.5V363.3" stroke="#000" stroke-width="1"/>
<rect x="1069.53" y="335.4" width="5" height="18.6" fill="#fff" stroke="#000" stroke-width="1"/>
<path d="M1077.5 326.3V346.2" stroke="#000" stroke-width="1"/>
<rect x="1074.82" y="335.4" width="5.6" height="1.2" fill="#000"/>
<path d="M1083.5 280.7V336.0" stroke="#000" stroke-width="1"/>
<rect x="1080.70" y="298.7" width="5" height="37.3" fill="#fff" stroke="#000" stroke-width="1"/>
<path d="M1088.5 281.7V316.2" stroke="#000" stroke-width="1"/>
<rect x="1086.28" y="299.0" width="5" height="1.8" fill="#fff" stroke="#000" stroke-width="1"/>
<path d="M1094.5 257.6V323.2" stroke="#000" stroke-width="1"/>
<rect x="1091.67" y="298.1" width="5.4" height="12.1" fill="#000"/>
<path d="M1099.5 304.6V336.1" stroke="#000" stroke-width="1"/>
<rect x="1097.25" y="309.7" width="5.4" height="15.3" fill="#000"/>
<path d="M1105.5 305.9V329.3" stroke="#000" stroke-width="1"/>
<rect x="1103.03" y="308.4" width="5" height="14.7" fill="#fff" stroke="#000" stroke-width="1"/>
<path d="M1111.5 304.4V330.3" stroke="#000" stroke-width="1"/>
<rect x="1108.42" y="307.9" width="5.4" height="19.0" fill="#000"/>
<path d="M1116.5 314.5V330.6" stroke="#000" stroke-width="1"/>
<rect x="1114.00" y="327.7" width="5.4" height="3.2" fill="#000"/>
<path d="M1122.5 320.2V330.2" stroke="#000" stroke-width="1"/>
<rect x="1119.78" y="326.6" width="5" height="3.6" fill="#fff" stroke="#000" stroke-width="1"/>
<path d="M1127.5 307.5V329.8" stroke="#000" stroke-width="1"/>
<rect x="1125.37" y="315.4" width="5" height="11.1" fill="#fff" stroke="#000" stroke-width="1"/>
<path d="M1133.5 289.6V320.2" stroke="#000" stroke-width="1"/>
<rect x="1130.65" y="315.1" width="5.6" height="1.2" fill="#000"/>
<path d="M1139.5 285.6V325.0" stroke="#000" stroke-width="1"/>
<rect x="1136.33" y="315.3" width="5.4" height="2.8" fill="#000"/>
<path d="M1144.5 307.5V348.6" stroke="#000" stroke-width="1"/>
<rect x="1141.92" y="320.6" width="5.4" height="11.5" fill="#000"/>
<path d="M1150.5 309.3V339.3" stroke="#000" stroke-width="1"/>
<rect x="1147.70" y="316.6" width="5" height="14.4" fill="#fff" stroke="#000" stroke-width="1"/>
<path d="M1155.5 311.7V350.4" stroke="#000" stroke-width="1"/>
<rect x="1153.08" y="316.9" width="5.4" height="13.0" fill="#000"/>
<path d="M1161.5 321.7V344.3" stroke="#000" stroke-width="1"/>
<rect x="1158.67" y="330.8" width="5.4" height="10.4" fill="#000"/>
<path d="M1166.5 320.2V348.6" stroke="#000" stroke-width="1"/>
<rect x="1164.45" y="325.5" width="5" height="15.7" fill="#fff" stroke="#000" stroke-width="1"/>
<path d="M1172.5 322.7V345.5" stroke="#000" stroke-width="1"/>
<rect x="1169.84" y="325.2" width="5.4" height="8.7" fill="#000"/>
<path d="M1178.5 311.7V336.5" stroke="#000" stroke-width="1"/>
<rect x="1175.62" y="316.8" width="5" height="15.5" fill="#fff" stroke="#000" stroke-width="1"/>
<path d="M1183.5 296.5V323.3" stroke="#000" stroke-width="1"/>
<rect x="1181.20" y="305.7" width="5" height="8.5" fill="#fff" stroke="#000" stroke-width="1"/>
<path d="M1189.5 294.7V314.2" stroke="#000" stroke-width="1"/>
<rect x="1186.79" y="299.6" width="5" height="6.7" fill="#fff" stroke="#000" stroke-width="1"/>
<path d="M1194.5 255.6V302.6" stroke="#000" stroke-width="1"/>
<rect x="1192.37" y="264.3" width="5" height="34.1" fill="#fff" stroke="#000" stroke-width="1"/>
<path d="M1200.5 244.6V279.5" stroke="#000" stroke-width="1"/>
<rect x="1197.95" y="260.0" width="5" height="4.3" fill="#fff" stroke="#000" stroke-width="1"/>
<path d="M1206.5 256.4V280.1" stroke="#000" stroke-width="1"/>
<rect x="1203.34" y="258.5" width="5.4" height="7.1" fill="#000"/>
<path d="M1211.5 266.1V311.5" stroke="#000" stroke-width="1"/>
<rect x="1208.92" y="265.8" width="5.4" height="24.1" fill="#000"/>
<path d="M1217.5 290.8V363.2" stroke="#000" stroke-width="1"/>
<rect x="1214.50" y="296.2" width="5.4" height="53.3" fill="#000"/>
<path d="M1222.5 334.4V399.6" stroke="#000" stroke-width="1"/>
<rect x="1220.09" y="344.6" width="5.4" height="4.9" fill="#000"/>
<path d="M1228.5 312.3V364.4" stroke="#000" stroke-width="1"/>
<rect x="1225.87" y="323.6" width="5" height="26.8" fill="#fff" stroke="#000" stroke-width="1"/>
<path d="M1233.5 299.6V343.1" stroke="#000" stroke-width="1"/>
<rect x="1231.45" y="304.4" width="5" height="16.8" fill="#fff" stroke="#000" stroke-width="1"/>
<path d="M1239.5 272.2V326.2" stroke="#000" stroke-width="1"/>
<rect x="1237.04" y="274.4" width="5" height="29.8" fill="#fff" stroke="#000" stroke-width="1"/>
<path d="M1245.5 268.3V311.4" stroke="#000" stroke-width="1"/>
<rect x="1242.42" y="275.6" width="5.4" height="30.2" fill="#000"/>
<path d="M1250.5 304.4V341.5" stroke="#000" stroke-width="1"/>
<rect x="1248.00" y="305.4" width="5.4" height="31.7" fill="#000"/>
<path d="M1256.5 323.3V340.3" stroke="#000" stroke-width="1"/>
<rect x="1253.79" y="334.7" width="5" height="2.0" fill="#fff" stroke="#000" stroke-width="1"/>
<path d="M1261.5 333.8V352.6" stroke="#000" stroke-width="1"/>
<rect x="1259.07" y="335.7" width="5.6" height="1.2" fill="#000"/>
<path d="M1267.5 315.5V343.5" stroke="#000" stroke-width="1"/>
<rect x="1264.95" y="317.7" width="5" height="17.9" fill="#fff" stroke="#000" stroke-width="1"/>
<path d="M1273.5 307.6V329.5" stroke="#000" stroke-width="1"/>
<rect x="1270.54" y="315.5" width="5" height="2.2" fill="#fff" stroke="#000" stroke-width="1"/>
<path d="M1278.5 290.3V323.4" stroke="#000" stroke-width="1"/>
<rect x="1276.12" y="311.6" width="5" height="3.7" fill="#fff" stroke="#000" stroke-width="1"/>
<path d="M1284.5 306.4V343.5" stroke="#000" stroke-width="1"/>
<rect x="1281.50" y="311.0" width="5.4" height="26.1" fill="#000"/>
<path d="M1289.5 325.3V338.0" stroke="#000" stroke-width="1"/>
<rect x="1287.29" y="334.7" width="5" height="2.1" fill="#fff" stroke="#000" stroke-width="1"/>
<path d="M1295.5 328.3V346.5" stroke="#000" stroke-width="1"/>
<rect x="1292.67" y="335.0" width="5.4" height="9.6" fill="#000"/>
<path d="M1300.5 339.2V348.6" stroke="#000" stroke-width="1"/>
<rect x="1298.16" y="344.8" width="5.6" height="1.2" fill="#000"/>
<path d="M1306.5 342.3V369.6" stroke="#000" stroke-width="1"/>
<rect x="1303.84" y="343.8" width="5.4" height="10.0" fill="#000"/>
<path d="M1312.5 322.8V363.6" stroke="#000" stroke-width="1"/>
<rect x="1309.62" y="342.3" width="5" height="11.2" fill="#fff" stroke="#000" stroke-width="1"/>
<path d="M1317.5 325.3V358.7" stroke="#000" stroke-width="1"/>
<rect x="1315.21" y="338.6" width="5" height="3.1" fill="#fff" stroke="#000" stroke-width="1"/>
<path d="M1323.5 338.6V370.9" stroke="#000" stroke-width="1"/>
<rect x="1320.59" y="338.3" width="5.4" height="20.9" fill="#000"/>
<path d="M1328.5 349.0V366.6" stroke="#000" stroke-width="1"/>
<rect x="1326.37" y="349.6" width="5" height="9.9" fill="#fff" stroke="#000" stroke-width="1"/>
<path d="M1334.5 331.3V355.7" stroke="#000" stroke-width="1"/>
<rect x="1331.96" y="345.9" width="5" height="3.4" fill="#fff" stroke="#000" stroke-width="1"/>
<path d="M1340.5 328.3V362.6" stroke="#000" stroke-width="1"/>
<rect x="1337.34" y="347.5" width="5.4" height="3.6" fill="#000"/>
<path d="M1345.5 346.5V376.4" stroke="#000" stroke-width="1"/>
<rect x="1342.92" y="352.3" width="5.4" height="9.1" fill="#000"/>
<path d="M1351.5 345.3V383.5" stroke="#000" stroke-width="1"/>
<rect x="1348.71" y="355.7" width="5" height="5.8" fill="#fff" stroke="#000" stroke-width="1"/>
<path d="M1356.5 339.2V400.4" stroke="#000" stroke-width="1"/>
<rect x="1354.09" y="355.4" width="5.4" height="32.3" fill="#000"/>
<path d="M1362.5 389.6V482.6" stroke="#000" stroke-width="1"/>
<rect x="1359.67" y="389.3" width="5.4" height="79.3" fill="#000"/>
<path d="M1367.5 447.2V482.2" stroke="#000" stroke-width="1"/>
<rect x="1365.26" y="470.2" width="5.4" height="5.4" fill="#000"/>
<path d="M1373.5 453.8V484.4" stroke="#000" stroke-width="1"/>
<rect x="1371.04" y="455.0" width="5" height="20.3" fill="#fff" stroke="#000" stroke-width="1"/>
<path d="M1379.5 447.2V473.1" stroke="#000" stroke-width="1"/>
<rect x="1376.42" y="455.3" width="5.4" height="13.2" fill="#000"/>
<path d="M1384.5 467.0V524.2" stroke="#000" stroke-width="1"/>
<rect x="1382.01" y="468.5" width="5.4" height="17.1" fill="#000"/>
<path d="M1390.5 478.0V512.2" stroke="#000" stroke-width="1"/>
<rect x="1387.59" y="485.8" width="5.4" height="12.5" fill="#000"/>
<path d="M1395.5 475.5V507.1" stroke="#000" stroke-width="1"/>
<rect x="1393.38" y="477.4" width="5" height="21.8" fill="#fff" stroke="#000" stroke-width="1"/>
<path d="M1401.5 472.5V516.3" stroke="#000" stroke-width="1"/>
<rect x="1398.76" y="476.4" width="5.4" height="32.9" fill="#000"/>
<path d="M1407.5 496.8V529.3" stroke="#000" stroke-width="1"/>
<rect x="1404.54" y="507.8" width="5" height="1.5" fill="#fff" stroke="#000" stroke-width="1"/>
<path d="M1412.5 493.5V525.4" stroke="#000" stroke-width="1"/>
<rect x="1409.83" y="507.9" width="5.6" height="1.2" fill="#000"/>
<path d="M1418.5 499.2V524.2" stroke="#000" stroke-width="1"/>
<rect x="1415.51" y="509.6" width="5.4" height="2.3" fill="#000"/>
<path d="M1423.5 508.4V543.4" stroke="#000" stroke-width="1"/>
<rect x="1421.09" y="511.1" width="5.4" height="17.0" fill="#000"/>
<path d="M1429.5 510.8V547.3" stroke="#000" stroke-width="1"/>
<rect x="1426.88" y="522.7" width="5" height="5.7" fill="#fff" stroke="#000" stroke-width="1"/>
<path d="M1434.5 470.5V565.5" stroke="#000" stroke-width="1"/>
<rect x="1432.46" y="487.9" width="5" height="33.2" fill="#fff" stroke="#000" stroke-width="1"/>
<path d="M1440.5 466.5V522.3" stroke="#000" stroke-width="1"/>
<rect x="1437.84" y="487.4" width="5.4" height="15.8" fill="#000"/>
<path d="M1446.5 488.7V512.2" stroke="#000" stroke-width="1"/>
<rect x="1443.43" y="498.9" width="5.4" height="2.2" fill="#000"/>
<path d="M1451.5 469.4V514.4" stroke="#000" stroke-width="1"/>
<rect x="1449.01" y="500.8" width="5.4" height="5.2" fill="#000"/>
<path d="M1457.5 481.4V519.5" stroke="#000" stroke-width="1"/>
<rect x="1454.79" y="484.7" width="5" height="18.6" fill="#fff" stroke="#000" stroke-width="1"/>
<path d="M1462.5 470.4V512.6" stroke="#000" stroke-width="1"/>
<rect x="1460.18" y="481.9" width="5.4" height="20.1" fill="#000"/>
<path d="M1468.5 472.2V525.4" stroke="#000" stroke-width="1"/>
<rect x="1465.76" y="503.2" width="5.4" height="5.5" fill="#000"/>
<path d="M1474.5 501.7V553.4" stroke="#000" stroke-width="1"/>
<rect x="1471.34" y="509.3" width="5.4" height="40.7" fill="#000"/>
<path d="M1479.5 512.6V556.4" stroke="#000" stroke-width="1"/>
<rect x="1477.13" y="538.8" width="5" height="10.5" fill="#fff" stroke="#000" stroke-width="1"/>
<path d="M1485.5 518.7V559.5" stroke="#000" stroke-width="1"/>
<rect x="1482.71" y="529.6" width="5" height="10.1" fill="#fff" stroke="#000" stroke-width="1"/>
<path d="M1490.5 518.5V556.4" stroke="#000" stroke-width="1"/>
<rect x="1488.09" y="529.9" width="5.4" height="13.0" fill="#000"/>
<path d="M1496.5 290.4V640.7" stroke="#000" stroke-width="1"/>
<rect x="1493.88" y="301.6" width="5" height="240.8" fill="#fff" stroke="#000" stroke-width="1"/>
<path d="M1501.5 272.2V330.5" stroke="#000" stroke-width="1"/>
<rect x="1499.26" y="302.3" width="5.4" height="14.8" fill="#000"/>
<path d="M1507.5 291.4V384.6" stroke="#000" stroke-width="1"/>
<rect x="1504.85" y="316.8" width="5.4" height="61.4" fill="#000"/>
<path d="M1513.5 360.9V540.6" stroke="#000" stroke-width="1"/>
<rect x="1510.43" y="378.0" width="5.4" height="70.7" fill="#000"/>
<path d="M1518.5 395.5V462.3" stroke="#000" stroke-width="1"/>
<rect x="1516.21" y="440.5" width="5" height="8.8" fill="#fff" stroke="#000" stroke-width="1"/>
<path d="M1524.5 405.3V445.4" stroke="#000" stroke-width="1"/>
<rect x="1521.80" y="414.4" width="5" height="25.9" fill="#fff" stroke="#000" stroke-width="1"/>
<path d="M1529.5 379.1V418.2" stroke="#000" stroke-width="1"/>
<rect x="1527.38" y="379.1" width="5" height="34.4" fill="#fff" stroke="#000" stroke-width="1"/>
<path d="M1535.5 376.5V417.2" stroke="#000" stroke-width="1"/>
<rect x="1532.96" y="394.9" width="5" height="10.4" fill="#fff" stroke="#000" stroke-width="1"/>
<path d="M0.0 478.3 L60.8 465.6 L121.6 446.7 L178.7 435.2 L200.0 429.7 L224.0 425.0 L287.3 420.0 L300.0 418.8 L336.5 415.8 L373.0 414.0 L400.0 412.9 L436.5 406.3 L473.0 402.0 L509.4 395.9 L545.9 394.3 L600.0 397.1 L620.0 398.6 L644.3 399.6 L680.8 399.8 L717.3 400.8 L723.3 399.8 L741.6 396.8 L778.1 391.9 L814.5 388.7 L820.0 389.5 L870.0 395.0 L920.0 401.6 L944.3 408.2 L980.8 411.9 L1041.6 411.9 L1078.1 409.5 L1120.8 405.7 L1157.3 405.1 L1193.7 405.1 L1205.9 404.5 L1230.2 405.2 L1247.0 406.5 L1300.0 407.0 L1345.0 407.0 L1368.0 408.2 L1376.5 408.9 L1413.0 412.6 L1449.4 416.0 L1490.8 417.2 L1501.7 415.6 L1535.6 414.4" stroke="#ff18f0" stroke-width="1.25" fill="none" stroke-linejoin="round"/>
<path d="M0.0 415.1 L60.8 407.2 L97.3 401.1 L121.6 395.1 L158.0 387.8 L182.4 375.6 L190.0 372.9 L220.4 358.9 L250.8 348.6 L256.9 346.5 L275.1 346.1 L299.4 344.7 L329.8 345.2 L348.0 349.8 L366.3 356.5 L390.0 366.2 L400.0 368.0 L424.3 372.2 L448.6 375.3 L479.0 376.5 L503.3 375.3 L527.7 375.3 L552.0 372.6 L560.5 373.4 L576.3 378.3 L600.0 385.6 L620.0 390.1 L650.4 398.0 L680.8 404.7 L711.2 412.0 L729.4 416.6 L753.7 420.5 L790.2 425.4 L810.0 430.0 L841.6 436.7 L872.0 441.6 L890.2 445.8 L920.0 449.5 L944.3 451.4 L980.8 450.8 L1011.2 447.8 L1041.6 445.9 L1078.1 444.1 L1108.4 439.8 L1120.0 436.8 L1160.9 425.0 L1181.6 418.5 L1205.9 411.8 L1230.2 407.5 L1260.0 403.9 L1306.9 395.0 L1337.3 389.3 L1358.2 386.0 L1388.6 384.9 L1413.0 385.9 L1430.0 387.5 L1455.5 385.2 L1490.8 383.6 L1501.7 379.1 L1535.6 378.3" stroke="#1f5fb5" stroke-width="1.05" fill="none" stroke-linejoin="round"/>
<path d="M0.0 363.6 L12.2 362.7 L19.5 359.6 L36.5 354.8 L53.5 351.5 L73.0 352.6 L90.0 354.4 L109.4 353.9 L121.6 350.5 L145.9 345.0 L161.7 339.6 L180.0 339.0 L195.0 340.6 L208.2 343.1 L238.6 338.2 L267.8 332.8 L281.2 328.5 L290.9 328.3 L311.6 334.0 L329.8 338.8 L348.0 348.0 L366.3 358.9 L390.0 377.8 L400.0 385.0 L412.2 392.9 L424.3 400.2 L436.5 406.3 L451.0 411.1 L473.0 412.3 L497.3 410.5 L521.6 412.9 L539.8 414.8 L552.0 415.6 L570.2 425.7 L584.7 430.0 L603.0 434.9 L615.1 437.5 L627.3 437.2 L632.2 436.9 L644.3 432.7 L660.1 426.8 L674.7 424.8 L693.0 421.1 L710.0 420.3 L725.8 421.5 L741.6 426.0 L757.7 430.0 L780.8 436.7 L810.0 445.8 L831.2 453.7 L847.7 451.3 L865.9 450.4 L878.1 451.9 L902.4 458.6 L920.0 464.4 L943.7 476.9 L954.0 476.1 L982.0 481.2 L1005.1 476.3 L1035.5 462.9 L1053.7 458.1 L1078.1 447.1 L1102.4 431.3 L1115.0 424.5 L1145.1 407.5 L1163.3 395.4 L1181.6 379.6 L1199.8 362.6 L1215.6 348.6 L1224.1 343.1 L1232.6 340.1 L1244.8 333.6 L1258.2 328.9 L1280.1 324.7 L1312.9 324.0 L1337.3 322.6 L1349.4 322.8 L1356.7 324.7 L1373.7 334.4 L1398.1 348.4 L1422.4 364.8 L1440.0 376.3 L1455.5 385.8 L1467.7 394.9 L1490.8 416.8 L1510.2 418.0 L1519.9 423.5 L1535.6 427.1" stroke="#ff9a22" stroke-width="1.0" fill="none" stroke-linejoin="round"/>
<rect x="1" y="54.8" width="1567" height="2" fill="#ff8a00"/>
<rect x="1" y="260.8" width="1567" height="2" fill="#ff8a00"/>
<rect x="1" y="318.1" width="1567" height="2" fill="#ff8a00"/>
<rect x="1" y="406" width="1567" height="2" fill="#0642a3"/>
<rect x="1" y="556" width="1567" height="2" fill="#0642a3"/>
<rect x="1" y="679" width="1567" height="2" fill="#0642a3"/>
<rect x="1" y="395" width="1567" height="1" fill="#2d4a78"/>
<rect x="5" y="5" width="77" height="22" fill="#616161"/>
<rect x="5" y="5" width="3" height="22" fill="#000000"/>
<text x="16.5" y="21.2" font-size="11" font-weight="bold" fill="#ffffff">USD/JPY</text>
<rect x="5" y="32" width="85" height="22" fill="#616161"/>
<rect x="5" y="32" width="3" height="22" fill="#ff8a00"/>
<text x="16.5" y="48.2" font-size="11" font-weight="bold" fill="#ffffff">SMA (50,0)</text>
<rect x="5" y="59" width="91" height="22" fill="#616161"/>
<rect x="5" y="59" width="3" height="22" fill="#0c47a6"/>
<text x="16.5" y="75.2" font-size="11" font-weight="bold" fill="#ffffff">SMA (100,0)</text>
<rect x="5" y="86" width="91" height="22" fill="#616161"/>
<rect x="5" y="86" width="3" height="22" fill="#ff18f0"/>
<text x="16.5" y="102.2" font-size="11" font-weight="bold" fill="#ffffff">SMA (200,0)</text>
<path d="M1568 395.5L1572 391V388.5Q1572 388 1572.5 388H1626Q1626.5 388 1626.5 388.5V402Q1626.5 402.5 1626 402.5H1572.5Q1572 402.5 1572 402V400Z" fill="#2f4b76"/>
<text x="1576.5" y="399.6" font-size="11" font-weight="bold" fill="#ffffff">108.4730</text>
</svg><div class="logo"><span class="fx">FX</span><span class="st">STREET</span></div></body></html>
